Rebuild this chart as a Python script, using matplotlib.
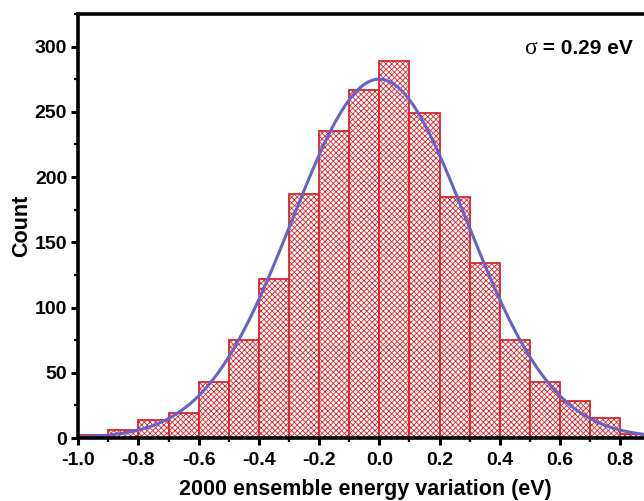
import numpy as np
import matplotlib
matplotlib.use("Agg")
import matplotlib.pyplot as plt
from matplotlib.ticker import MultipleLocator, FixedLocator

plt.rcParams["font.family"] = ["Liberation Sans", "DejaVu Sans"]
plt.rcParams["font.weight"] = "bold"
plt.rcParams["hatch.linewidth"] = 0.6

# histogram data (bin edges every 0.1 eV)
bin_left = [-1.0, -0.9, -0.8, -0.7, -0.6, -0.5, -0.4, -0.3, -0.2, -0.1,
            0.0, 0.1, 0.2, 0.3, 0.4, 0.5, 0.6, 0.7, 0.8]
counts = [2, 6, 14, 19, 43, 75, 122, 187, 235, 267,
          289, 249, 185, 134, 75, 43, 28, 15, 3]
bin_width = 0.1

# gaussian fit parameters
n_total = 2000
mu = 0.0
sigma = 0.29

x_ticks = [-1.0, -0.8, -0.6, -0.4, -0.2, 0.0, 0.2, 0.4, 0.6, 0.8]

RED = "#d8262b"
BLUE = "#6464c8"

fig = plt.figure(figsize=(6.44, 5.01), dpi=100)
ax = fig.add_axes([0.1215, 0.1257, 0.935, 0.8463])

ax.bar(bin_left, counts, width=bin_width, align="edge", facecolor="white",
       edgecolor=RED, hatch="xxxxxx", linewidth=1.3, zorder=2)

xs = np.linspace(-1.0, 1.0, 400)
fit = n_total * bin_width / (sigma * np.sqrt(2 * np.pi)) * np.exp(-0.5 * ((xs - mu) / sigma) ** 2)
ax.plot(xs, fit, color=BLUE, linewidth=2.2, zorder=3)

ax.set_xlim(-1.0, 1.0)
ax.set_ylim(0, 325)
ax.xaxis.set_major_locator(FixedLocator(x_ticks))
ax.xaxis.set_minor_locator(MultipleLocator(0.1))
ax.yaxis.set_major_locator(MultipleLocator(50))
ax.yaxis.set_minor_locator(MultipleLocator(25))
ax.xaxis.set_major_formatter(plt.FuncFormatter(lambda v, _: f"{v:.1f}"))

for s in ax.spines.values():
    s.set_linewidth(2.6)
    s.set_zorder(5)
ax.tick_params(which="major", direction="out", length=5, width=2.2, labelsize=14)
ax.tick_params(axis="x", which="major", pad=5)
ax.tick_params(axis="y", which="major", pad=3)
ax.tick_params(which="minor", direction="out", length=3, width=1.6)
ax.tick_params(top=False, right=False)

ax.set_xlabel("2000 ensemble energy variation (eV)", fontsize=15.5, fontweight="bold")
ax.xaxis.set_label_coords(0.477, -0.097)
ax.set_ylabel("Count", fontsize=15.5, fontweight="bold", labelpad=2)

# sigma label: serif sigma, bold rest
t = ax.text(0.842, 294, " = 0.29 eV", fontsize=15, fontweight="bold", ha="right", va="baseline")
fig.canvas.draw()
bb = t.get_window_extent().transformed(ax.transData.inverted())
ax.text(bb.x0, 294, "σ", fontsize=17, family="Liberation Serif", fontweight="normal",
        ha="right", va="baseline")

fig.savefig("out.png", dpi=100)
